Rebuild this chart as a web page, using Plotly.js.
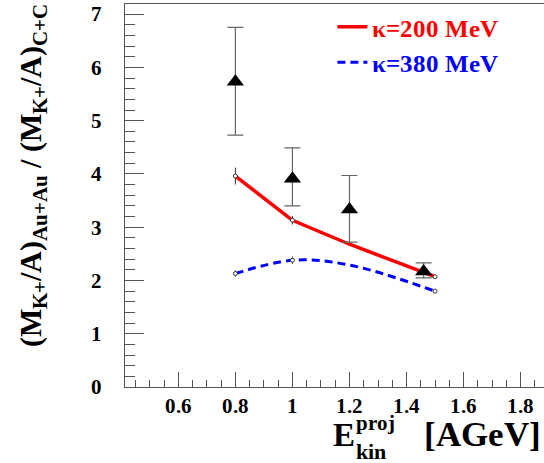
<!DOCTYPE html>
<html><head><meta charset="utf-8">
<script src="https://cdn.plot.ly/plotly-3.0.1.min.js"></script>
<style>
@font-face { font-family: 'RootSerif'; font-weight: bold; font-style: normal;
  src: local('Liberation Serif Bold'), local('LiberationSerif-Bold'), local('Times New Roman Bold'); }
@font-face { font-family: 'RootSerif'; font-weight: normal; font-style: normal;
  src: local('Liberation Serif'), local('LiberationSerif'), local('Times New Roman'); }
html,body{margin:0;padding:0;background:#fff}
#chart{width:544px;height:463px}
#preload{position:absolute;left:-999px;top:0;font-family:'RootSerif';font-weight:bold;font-size:20px}
</style>
</head><body><div id="preload">κ=200 MeV 0.8 AGeV</div><div id="chart"></div>
<script>
// Measured K+ multiplicity ratio (triangles)
const expEnergy = [0.8, 1.0, 1.2, 1.46];
const expRatio = [5.73, 3.91, 3.33, 2.17];
const expErrUp = [1.02, 0.58, 0.64, 0.16];
const expErrDown = [1.00, 0.51, 0.61, 0.12];

// Calculated curves
const kappa200Energy = [0.8, 1.0, 1.2, 1.5];
const kappa200Ratio = [3.96, 3.13, 2.68, 2.07];
const kappa380Energy = [0.8, 1.0, 1.2, 1.5];
const kappa380Ratio = [2.13, 2.38, 2.29, 1.80];

// Calculated points with their statistical errors
const calcEnergy = [0.8, 1.0, 1.5];
const calc200Ratio = [3.96, 3.13, 2.07];
const calc200Err = [0.16, 0.08, 0.02];
const calc380Ratio = [2.13, 2.38, 1.80];
const calc380Err = [0.06, 0.07, 0.02];

const legendNames = ['<span style="color:#ff0000">\u03ba=200 MeV</span>', '<span style="color:#0000ff">\u03ba=380 MeV</span>'];
const xTitleParts = ['E', 'proj', 'kin', '[AGeV]'];

const FONT = 'RootSerif, Liberation Serif, serif';
function f(size) { return {family: FONT, size: size, weight: 'bold', color: '#000000'}; }

function makeTraces() {
  return [
    {x: kappa200Energy, y: kappa200Ratio, mode: 'lines', name: legendNames[0],
     line: {color: '#ff0000', width: 3.5}, hoverinfo: 'skip'},
    {x: kappa380Energy, y: kappa380Ratio, mode: 'lines', name: legendNames[1],
     line: {color: '#0000ff', width: 3, dash: '8px,5px', shape: 'spline', smoothing: 1}, hoverinfo: 'skip'},
    {x: calcEnergy, y: calc200Ratio, mode: 'markers', showlegend: false,
     marker: {symbol: 'circle', size: 4, color: '#fff', line: {color: '#333', width: 1}},
     error_y: {type: 'data', array: calc200Err, color: '#333', thickness: 1, width: 0}},
    {x: calcEnergy, y: calc380Ratio, mode: 'markers', showlegend: false,
     marker: {symbol: 'circle', size: 4, color: '#fff', line: {color: '#333', width: 1}},
     error_y: {type: 'data', array: calc380Err, color: '#333', thickness: 1, width: 0}},
    {x: expEnergy, y: expRatio, mode: 'markers', showlegend: false,
     marker: {symbol: 'triangle-up', size: 15, color: '#000'},
     error_y: {type: 'data', symmetric: false, array: expErrUp, arrayminus: expErrDown,
               color: '#666', thickness: 1.2, width: 8}}
  ];
}

function makeLayout() {
  return {
    width: 544, height: 463,
    margin: {l: 125, r: 0, t: 4, b: 76, pad: 0},
    paper_bgcolor: '#ffffff', plot_bgcolor: '#ffffff',
    font: {family: FONT},
    showlegend: true,
    legend: {x: 0.495, y: 1.0, xanchor: 'left', yanchor: 'top', bgcolor: 'rgba(0,0,0,0)',
             font: {family: FONT, size: 25, weight: 'bold'}, itemwidth: 30, tracegroupgap: 0},
    xaxis: {
      range: [0.413, 1.882], tickmode: 'linear', tick0: 0, dtick: 0.2,
      ticks: 'inside', ticklen: 15, tickwidth: 1, tickcolor: '#555',
      showline: true, linecolor: '#555', linewidth: 1, mirror: true,
      showgrid: false, zeroline: false, tickfont: f(21),
      minor: {tick0: 0, dtick: 0.05, ticks: 'inside', ticklen: 7, tickwidth: 1, tickcolor: '#555', showgrid: false}
    },
    yaxis: {
      range: [0, 7.19], tickmode: 'linear', tick0: 0, dtick: 1,
      ticks: 'inside', ticklen: 19, tickwidth: 1, tickcolor: '#555',
      showline: true, linecolor: '#555', linewidth: 1,
      showgrid: false, zeroline: false, tickfont: f(21), ticklabelstandoff: 18,
      minor: {tick0: 0, dtick: 0.2, ticks: 'inside', ticklen: 10, tickwidth: 1, tickcolor: '#555', showgrid: false},
      title: {text: '&nbsp;&nbsp;&nbsp;&nbsp;&nbsp;(M<sub>K+</sub>/A)<sub>Au+Au</sub> / (M<sub>K+</sub>/A)<sub>C+C</sub>',
              font: f(30), standoff: 40}
    },
    annotations: [
      {xref: 'paper', yref: 'paper', x: 0.4916, y: -0.1253, xanchor: 'left', yanchor: 'middle',
       text: xTitleParts[0], showarrow: false, font: f(33)},
      {xref: 'paper', yref: 'paper', x: 0.547, y: -0.093, xanchor: 'left', yanchor: 'middle',
       text: xTitleParts[1], showarrow: false, font: f(21)},
      {xref: 'paper', yref: 'paper', x: 0.547, y: -0.1687, xanchor: 'left', yanchor: 'middle',
       text: xTitleParts[2], showarrow: false, font: f(22)},
      {xref: 'paper', yref: 'paper', x: 0.9976, y: -0.1253, xanchor: 'right', yanchor: 'middle',
       text: xTitleParts[3], showarrow: false, font: f(35)}
    ]
  };
}

const config = {displayModeBar: false, staticPlot: true};
Plotly.newPlot('chart', makeTraces(), makeLayout(), config);

if (document.fonts && document.fonts.load) {
  Promise.all([
    document.fonts.load('bold 20px RootSerif'),
    document.fonts.load('20px RootSerif')
  ]).then(function () { return document.fonts.ready; })
    .then(function () { Plotly.newPlot('chart', makeTraces(), makeLayout(), config); })
    .catch(function () {});
}
</script>
</body></html>
